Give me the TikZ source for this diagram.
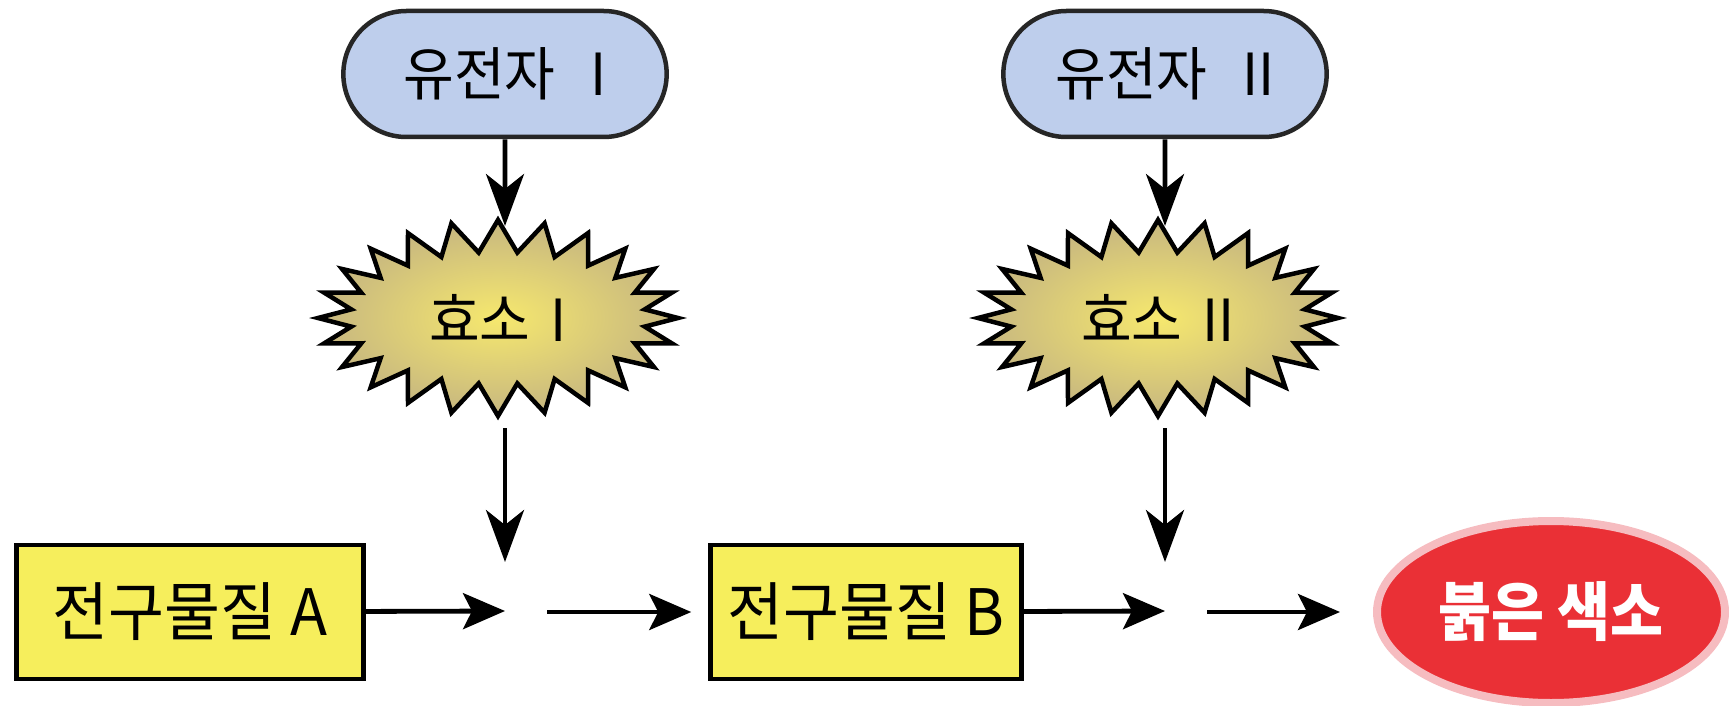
\documentclass[tikz,border=0pt]{standalone}
\usepackage{fontspec}
\setmainfont{Noto Sans CJK KR}[FakeStretch=0.95]
\newfontfamily\redfont{Noto Sans CJK KR}[FakeStretch=0.9]
\usetikzlibrary{shapes.misc,shapes.symbols,shapes.geometric,arrows.meta}
\definecolor{pillblue}{RGB}{190,206,236}
\definecolor{boxyellow}{RGB}{246,238,92}
\definecolor{burstin}{RGB}{246,232,110}
\definecolor{burstout}{RGB}{198,182,128}
\definecolor{pigred}{RGB}{234,48,54}
\definecolor{pigrim}{RGB}{246,188,192}
\tikzset{
  pill/.style={rounded rectangle, draw=black!85, line width=4.5pt, fill=pillblue,
    minimum width=330pt, minimum height=126pt, font=\fontsize{58}{60}\selectfont},
  burst/.style={starburst, starburst points=24, starburst point height=32pt,
    random starburst=0, draw=black, line width=4.5pt, inner color=burstin,
    outer color=burstout, minimum width=360pt, minimum height=196pt,
    font=\fontsize{58}{60}\selectfont},
  pbox/.style={rectangle, draw=black, line width=4.5pt, fill=boxyellow,
    minimum height=134pt, font=\fontsize{64}{66}\selectfont},
  pigment/.style={ellipse, draw=pigrim, line width=8pt, fill=pigred, text=white,
    minimum width=348pt, minimum height=182pt, font=\redfont\bfseries\fontsize{64}{66}\selectfont},
  arr/.style={line width=4.8pt, -{Stealth[length=42pt,width=36pt,inset=9pt]}},
  varr/.style={line width=4.8pt, -{Stealth[length=52pt,width=38pt,inset=15pt]}}
}
\begin{document}
\begin{tikzpicture}[x=1pt,y=-1pt]
\useasboundingbox (0,0) rectangle (1729,706);
\clip (0,0) rectangle (1729,706);
% genes
\node[pill] (g1) at (505,74) {유전자\hspace{0.6em}I};
\node[pill] (g2) at (1165,74) {유전자\hspace{0.6em}II};
% enzymes
\node[burst] (e1) at (498,318) {효소\hspace{0.35em}I};
\node[burst] (e2) at (1158,318) {효소\hspace{0.35em}II};
% substances
\node[pbox, minimum width=347pt] (a) at (190,612) {전구물질 A};
\node[pbox, minimum width=311pt] (b) at (866,612) {전구물질 B};
\node[pigment] (r) at (1551,612) {붉은 색소};
% coordinates
\coordinate (t1) at (505,226);
\coordinate (s1) at (505,428);
\coordinate (j1) at (505,562);
\coordinate (h1) at (505,611);
\coordinate (h1b) at (547,612);
\coordinate (t2) at (1165,226);
\coordinate (s2) at (1165,428);
\coordinate (j2) at (1165,562);
\coordinate (h2) at (1165,611);
\coordinate (h2b) at (1207,612);
% arrows
\draw[varr] (g1) -- (t1);
\draw[varr] (g2) -- (t2);
\draw[varr] (s1) -- (j1);
\draw[varr] (s2) -- (j2);
\draw[arr] (a) -- (h1);
\draw[arr, shorten >=17pt] (h1b) -- (b);
\draw[arr] (b) -- (h2);
\draw[arr, shorten >=33pt] (h2b) -- (r);
\end{tikzpicture}
\end{document}
